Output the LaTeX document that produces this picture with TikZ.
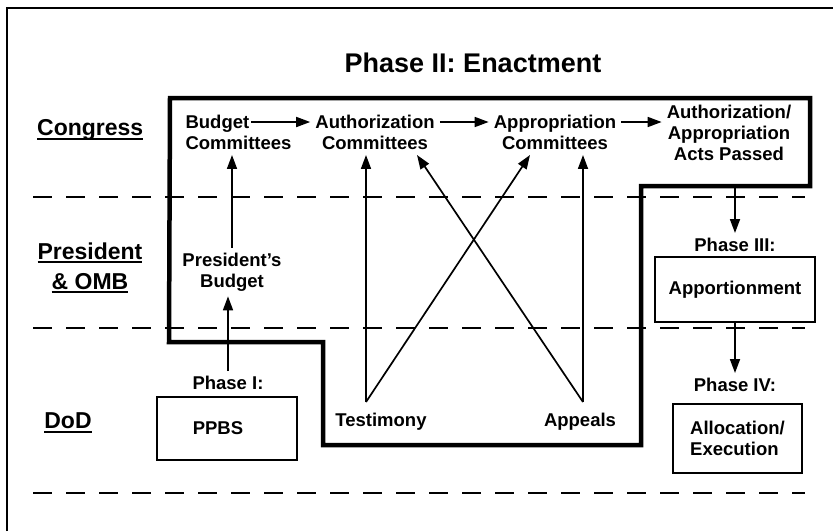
\documentclass[tikz,border=0pt]{standalone}
\usepackage{fontspec}
\setmainfont{Liberation Sans}
\usetikzlibrary{arrows.meta,calc}
\newcommand\myul[1]{\setbox0\hbox{#1}\copy0\kern-\wd0\rule[-4pt]{\wd0}{2pt}}
\begin{document}
\begin{tikzpicture}[x=1pt,y=-1pt,
  txt/.style={font=\bfseries\fontsize{18.5}{21}\selectfont, align=center, inner sep=5pt},
  lane/.style={font=\bfseries\fontsize{23}{30}\selectfont, align=center, inner sep=0pt},
  titlen/.style={font=\bfseries\fontsize{27}{32}\selectfont, inner sep=0pt},
  boxn/.style={txt, draw, line width=1.4pt},
  arr/.style={line width=1.7pt, -{Triangle[length=14pt,width=10pt]}},
  dashline/.style={line width=2pt, dash pattern=on 19pt off 14pt},
  enact/.style={line width=4.5pt, line join=miter}]
\useasboundingbox (0,0) rectangle (833,531);
\draw[line width=2pt] (7,531) -- (7,8) -- (833,8);
\foreach \y in {197,328,493} \draw[dashline] (33,\y) -- (805,\y);
\draw[enact] (170,98) -- (810,98) -- (810,186) -- (641,186) -- (641,445) -- (323,445) -- (323,342) -- (169,342) -- cycle;

\node[titlen] (title) at (473,63) {Phase II: Enactment};
\node[lane, anchor=west] (congress) at (37,130) {\myul{Congress}};
\node[lane] (pres) at (90,268) {\myul{President}\\\myul{\& OMB}};
\node[lane] (dod) at (68,423) {\myul{DoD}};

\node[txt, align=left] (budget) at (238.5,132.5) {Budget\\Committees};
\node[txt] (auth) at (375,132.5) {Authorization\\Committees};
\node[txt] (approp) at (555,132.5) {Appropriation\\Committees};
\node[txt] (acts) at (729,133) {Authorization/\\Appropriation\\Acts Passed};
\node[txt] (presbud) at (232,272) {President’s\\Budget};
\node[txt] (ph1) at (228,383) {Phase I:};
\node[boxn, minimum width=140pt, minimum height=63pt] (ppbs) at (227,428.5) {PPBS\hspace*{18pt}};
\node[txt] (testimony) at (381,422) {Testimony};
\node[txt] (appeals) at (580,422) {Appeals};
\node[txt] (ph3) at (735,245) {Phase III:};
\node[boxn, minimum width=160pt, minimum height=65pt] (apport) at (735,289.5) {Apportionment};
\node[txt] (ph4) at (735,385) {Phase IV:};
\node[boxn, align=left, minimum width=129pt, minimum height=69pt] (alloc) at (737.5,438.5) {Allocation/\\Execution};

\coordinate (b1) at (251,122);
\draw[arr] (b1) -- (auth.west |- b1);
\draw[arr] (auth.east |- b1) -- (approp.west |- b1);
\draw[arr] (approp.east |- b1) -- (acts.west |- b1);
\draw[arr] (presbud.north) -- (presbud.north |- budget.south);
\draw[arr] (ph1.north) -- (ph1.north |- presbud.south);
\coordinate (t0) at (366,402);
\coordinate (a0) at (583,402);
\draw[arr] (t0) -- (t0 |- auth.south);
\draw[arr] (t0) -- ([xshift=-25pt]approp.south);
\draw[arr] (a0) -- (a0 |- approp.south);
\draw[arr] (a0) -- ([xshift=42pt]auth.south);
\coordinate (step) at (735,186);
\draw[arr] (step) -- (ph3.north);
\draw[arr] (apport.south) -- (ph4.north);
\end{tikzpicture}
\end{document}
